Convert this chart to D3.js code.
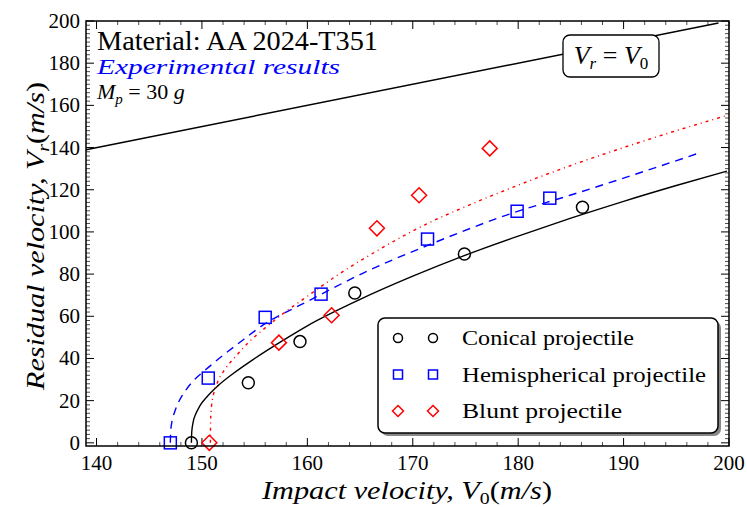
<!DOCTYPE html>
<html>
<head>
<meta charset="utf-8">
<script src="https://cdn.jsdelivr.net/npm/d3@7"></script>
<style>
  body { margin: 0; background: #fff; }
</style>
</head>
<body>
<div class="chart"></div>
<script>
// experimental points (V0, Vr)
const conicalV0 = [149.0, 154.4, 159.3, 164.5, 174.9, 186.1];
const conicalVr = [0, 28.5, 48, 71, 89.5, 111.7];
const hemiV0 = [147.0, 150.6, 156.0, 161.3, 171.4, 179.9, 183.0];
const hemiVr = [0, 30.7, 59.5, 70.5, 96.6, 109.8, 116];
const bluntV0 = [150.7, 157.3, 162.3, 166.6, 170.6, 177.3];
const bluntVr = [0, 47.5, 60.5, 101.7, 117.4, 139.6];

// fitted curves
const conicalFitV0 = [149.0, 149.03, 149.15, 149.4, 149.8, 150.5, 151.5, 153, 155, 157.5, 160, 165, 170, 175, 180, 185, 190, 195, 199.8];
const conicalFitVr = [0, 5, 9.5, 13.5, 17.5, 22, 27, 33, 40, 48, 55.5, 68, 79, 89, 98, 106.5, 114.5, 122, 128.8];
const hemiFitV0 = [147.0, 147.03, 147.15, 147.4, 147.8, 148.4, 149.2, 150.2, 151.5, 153.3, 156, 160, 165.3, 171.6, 179.2, 185, 190, 197.1];
const hemiFitVr = [0, 5, 10, 14.5, 19.5, 24.5, 29.5, 34, 39.5, 46.5, 56.5, 67, 80.5, 94, 108.5, 117.5, 125.5, 137.3];
const bluntFitV0 = [150.8, 150.82, 150.9, 151.1, 151.5, 152.2, 153.2, 154.5, 156, 157.5, 160, 163, 166.6, 171.4, 175, 178.9, 185, 190, 195, 200];
const bluntFitVr = [0, 10, 17, 23, 29, 35, 41, 48, 54.5, 60.5, 69.5, 80, 91, 104, 112, 120, 131.5, 140, 148, 155.5];

// equality line
const equalV0 = [139, 199];

const xTicks = [140, 150, 160, 170, 180, 190, 200];
const yTicks = [0, 20, 40, 60, 80, 100, 120, 140, 160, 180, 200];

const legendLabels = ["Conical projectile", "Hemispherical projectile", "Blunt projectile"];
const legendWidths = [172, 244, 160];

// layout
let margin = {top: 21, right: 18, left: 86, bottom: 61};
let outWidth = 747, outHeight = 507;
let width = outWidth - margin.left - margin.right,
    height = outHeight - margin.top - margin.bottom;

const svg = d3.select('.chart').append('svg')
    .attr("width", outWidth)
    .attr("height", outHeight)
    .attr("font-family", "'Liberation Serif', 'DejaVu Serif', serif");

const g = svg.append("g")
    .attr("transform", `translate(${margin.left}, ${margin.top})`);

let x = d3.scaleLinear().domain([139, 200]).range([0, width]);
let y = d3.scaleLinear().domain([-1.5, 200]).range([height, 0]);

const zip = (a, b) => a.map((d, i) => [d, b[i]]);

// frame ticks (inward, all four sides)
const minorX = d3.range(140, 200.1, 2).filter(d => !xTicks.includes(d));
const minorY = d3.range(0, 200.1, 2).filter(d => !yTicks.includes(d));
const tickG = g.append("g").attr("stroke", "#000");
xTicks.forEach(t => {
    tickG.append("line").attr("x1", x(t)).attr("x2", x(t)).attr("y1", height).attr("y2", height - 8).attr("stroke-width", 1);
    tickG.append("line").attr("x1", x(t)).attr("x2", x(t)).attr("y1", 0).attr("y2", 8).attr("stroke-width", 1);
});
minorX.forEach(t => {
    tickG.append("line").attr("x1", x(t)).attr("x2", x(t)).attr("y1", height).attr("y2", height - 4).attr("stroke-width", 0.7);
    tickG.append("line").attr("x1", x(t)).attr("x2", x(t)).attr("y1", 0).attr("y2", 4).attr("stroke-width", 0.7);
});
yTicks.forEach(t => {
    tickG.append("line").attr("x1", 0).attr("x2", 8).attr("y1", y(t)).attr("y2", y(t)).attr("stroke-width", 1);
    tickG.append("line").attr("x1", width).attr("x2", width - 8).attr("y1", y(t)).attr("y2", y(t)).attr("stroke-width", 1);
});
minorY.forEach(t => {
    tickG.append("line").attr("x1", 0).attr("x2", 4).attr("y1", y(t)).attr("y2", y(t)).attr("stroke-width", 0.7);
    tickG.append("line").attr("x1", width).attr("x2", width - 4).attr("y1", y(t)).attr("y2", y(t)).attr("stroke-width", 0.7);
});

// tick labels
g.selectAll(".xlab").data(xTicks).join("text")
    .attr("x", d => x(d)).attr("y", height + 24)
    .attr("text-anchor", "middle").attr("font-size", 21)
    .text(d => d);
g.selectAll(".ylab").data(yTicks).join("text")
    .attr("x", -6).attr("y", d => y(d) + 7)
    .attr("text-anchor", "end").attr("font-size", 21)
    .text(d => d);

// V_r = V_0 line
g.append("path")
    .datum(zip(equalV0, equalV0))
    .attr("d", d3.line().x(d => x(d[0])).y(d => y(d[1])))
    .attr("fill", "none").attr("stroke", "#000").attr("stroke-width", 1.5);

// fitted curves
const line = d3.line().x(d => x(d[0])).y(d => y(d[1])).curve(d3.curveMonotoneX);
g.append("path").datum(zip(conicalFitV0, conicalFitVr)).attr("d", line)
    .attr("fill", "none").attr("stroke", "#000").attr("stroke-width", 1.4);
g.append("path").datum(zip(hemiFitV0, hemiFitVr)).attr("d", line)
    .attr("fill", "none").attr("stroke", "#0000ff").attr("stroke-width", 1.4)
    .attr("stroke-dasharray", "8,6");
g.append("path").datum(zip(bluntFitV0, bluntFitVr)).attr("d", line)
    .attr("fill", "none").attr("stroke", "#ff0000").attr("stroke-width", 1.4)
    .attr("stroke-dasharray", "3,4,1,4");

// markers
function marker(sel, type, s) {
    if (type === "circle") sel.append("circle").attr("r", s / 2);
    else if (type === "square") sel.append("rect").attr("x", -s / 2).attr("y", -s / 2).attr("width", s).attr("height", s);
    else sel.append("path").attr("d", `M0,${-s / 2}L${s / 2},0L0,${s / 2}L${-s / 2},0Z`);
}
const series = [
    {v0: conicalV0, vr: conicalVr, type: "circle", color: "#000", size: 12},
    {v0: hemiV0, vr: hemiVr, type: "square", color: "#0000ff", size: 12},
    {v0: bluntV0, vr: bluntVr, type: "diamond", color: "#ff0000", size: 15}
];
series.forEach(s => {
    zip(s.v0, s.vr).forEach(p => {
        const m = g.append("g").attr("transform", `translate(${x(p[0])},${y(p[1])})`)
            .attr("fill", "none").attr("stroke", s.color).attr("stroke-width", 1.5);
        marker(m, s.type, s.size);
    });
});

// frame
g.append("rect").attr("width", width).attr("height", height)
    .attr("fill", "none").attr("stroke", "#000").attr("stroke-width", 1.5);

// text annotations
g.append("text").attr("x", 11).attr("y", 29).attr("font-size", 27)
    .attr("textLength", 281).attr("lengthAdjust", "spacingAndGlyphs")
    .text("Material: AA 2024-T351");
g.append("text").attr("x", 11).attr("y", 53).attr("font-size", 22).attr("font-style", "italic")
    .attr("textLength", 243).attr("lengthAdjust", "spacingAndGlyphs")
    .attr("fill", "#0000ff").text("Experimental results");
const mp = g.append("text").attr("x", 11).attr("y", 78).attr("font-size", 22).attr("font-style", "italic");
mp.append("tspan").text("M");
mp.append("tspan").attr("font-size", 15).attr("dy", 5).text("p");
mp.append("tspan").attr("dy", -5).attr("font-style", "normal").text(" = 30 ");
mp.append("tspan").text("g");

// V_r = V_0 label box
const bx = 477, by = 14;
g.append("rect").attr("x", bx).attr("y", by).attr("width", 96).attr("height", 42).attr("rx", 7)
    .attr("fill", "#fff").attr("stroke", "#000").attr("stroke-width", 1.3);
const eq = g.append("text").attr("x", bx + 48).attr("y", by + 29).attr("text-anchor", "middle")
    .attr("font-size", 26).attr("font-style", "italic");
eq.append("tspan").text("V");
eq.append("tspan").attr("font-size", 17).attr("dy", 5).text("r");
eq.append("tspan").attr("dy", -5).attr("font-style", "normal").text(" = ");
eq.append("tspan").text("V");
eq.append("tspan").attr("font-size", 17).attr("dy", 5).attr("font-style", "normal").text("0");

// legend
const lg = svg.append("g").attr("transform", "translate(378,318)");
lg.append("rect").attr("x", 3).attr("y", 3).attr("width", 340).attr("height", 115).attr("rx", 7)
    .attr("fill", "#888");
lg.append("rect").attr("width", 340).attr("height", 115).attr("rx", 7)
    .attr("fill", "#fff").attr("stroke", "#000").attr("stroke-width", 1.5);
series.forEach((s, i) => {
    const ly = 20 + i * 36.5;
    [20, 55].forEach(lx => {
        const m = lg.append("g").attr("transform", `translate(${lx},${ly})`)
            .attr("fill", "none").attr("stroke", s.color).attr("stroke-width", 1.5);
        marker(m, s.type, s.type === "diamond" ? 11 : 9);
    });
    lg.append("text").attr("x", 84).attr("y", ly + 7).attr("font-size", 22)
        .attr("textLength", legendWidths[i]).attr("lengthAdjust", "spacingAndGlyphs")
        .text(legendLabels[i]);
});

// axis titles
const xt = svg.append("text").attr("x", 407).attr("y", 499).attr("text-anchor", "middle")
    .attr("font-size", 26).attr("font-style", "italic")
    .attr("textLength", 290).attr("lengthAdjust", "spacingAndGlyphs");
xt.append("tspan").text("Impact velocity, V");
xt.append("tspan").attr("font-size", 17).attr("dy", 5).attr("font-style", "normal").text("0");
xt.append("tspan").attr("dy", -5).attr("font-style", "normal").text("(");
xt.append("tspan").text("m/s");
xt.append("tspan").attr("font-style", "normal").text(")");

const yt = svg.append("text").attr("transform", "translate(44,236) rotate(-90)")
    .attr("text-anchor", "middle").attr("font-size", 26).attr("font-style", "italic")
    .attr("textLength", 308).attr("lengthAdjust", "spacingAndGlyphs");
yt.append("tspan").text("Residual velocity, V");
yt.append("tspan").attr("font-size", 17).attr("dy", 5).text("r");
yt.append("tspan").attr("dy", -5).attr("font-style", "normal").text("(");
yt.append("tspan").text("m/s");
yt.append("tspan").attr("font-style", "normal").text(")");
</script>
</body>
</html>
